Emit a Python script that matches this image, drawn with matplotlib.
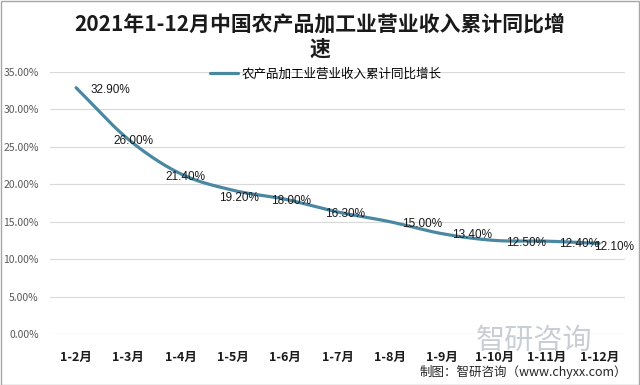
import numpy as np
import matplotlib
matplotlib.use('Agg')
import matplotlib.pyplot as plt
from matplotlib.ticker import FuncFormatter

plt.rcParams['font.family'] = ['Noto Sans CJK SC', 'DejaVu Sans']

months = ['1-2月', '1-3月', '1-4月', '1-5月', '1-6月', '1-7月',
          '1-8月', '1-9月', '1-10月', '1-11月', '1-12月']
growth = [32.90, 26.00, 21.40, 19.20, 18.00, 16.30, 15.00, 13.40, 12.50, 12.40, 12.10]
series_name = '农产品加工业营业收入累计同比增长'
title = '2021年1-12月中国农产品加工业营业收入累计同比增\n速'

# label offsets in pixels (left edge of label relative to point)
label_dx = [14, -15, -15, -14, -14, -13, 12, 10, 12, 12, -5]
label_dy = [-2, -2, -3, -8, -2, -2, -2, -1, -3, -3, -4]


def smooth(x, y, n=20):
    # Catmull-Rom spline through the points, like Excel's smoothed line
    x = np.asarray(x, float)
    y = np.asarray(y, float)
    px = np.concatenate([[2 * x[0] - x[1]], x, [2 * x[-1] - x[-2]]])
    py = np.concatenate([[2 * y[0] - y[1]], y, [2 * y[-1] - y[-2]]])
    xs, ys = [], []
    t = np.linspace(0, 1, n, endpoint=False)
    for i in range(1, len(px) - 2):
        for arr, out in ((px, xs), (py, ys)):
            p0, p1, p2, p3 = arr[i - 1], arr[i], arr[i + 1], arr[i + 2]
            out.extend(0.5 * ((2 * p1) + (-p0 + p2) * t
                              + (2 * p0 - 5 * p1 + 4 * p2 - p3) * t ** 2
                              + (-p0 + 3 * p1 - 3 * p2 + p3) * t ** 3))
    xs.append(x[-1])
    ys.append(y[-1])
    return np.array(xs), np.array(ys)


fig = plt.figure(figsize=(6.4, 3.85), dpi=100)
ax = fig.add_axes([0.078, 0.1325, 0.899, 0.6805])

xpos = np.arange(len(months))
sx, sy = smooth(xpos, growth)
ax.plot(sx, sy, color='#4A88A2', linewidth=2.3, label=series_name, solid_capstyle='round')

for i, v in enumerate(growth):
    ax.annotate('%.2f%%' % v, (xpos[i], v), xytext=(label_dx[i], label_dy[i]),
                textcoords='offset pixels', ha='left', va='center',
                fontsize=8.5, color='#1a1a1a',
                family=['Liberation Sans', 'DejaVu Sans'])

ax.set_xlim(-0.5, len(months) - 0.5)
ax.set_ylim(0, 35)
ax.set_yticks(np.arange(0, 36, 5))
ax.yaxis.set_major_formatter(FuncFormatter(lambda v, p: '%.2f%%' % v))
ax.set_xticks(xpos)
ax.set_xticklabels(months, fontsize=9, fontweight='bold', color='#1a1a1a')
ax.tick_params(axis='y', labelsize=7.5, labelcolor='#595959', length=0, pad=8)
ax.tick_params(axis='x', length=0, pad=12)
ax.grid(axis='y', color='#D9D9D9', linewidth=0.8)
ax.set_axisbelow(True)
for s in ax.spines.values():
    s.set_visible(False)

fig.text(0.5, 0.905, title, ha='center', va='center', fontsize=15,
         fontweight='bold', color='#1a1a1a', linespacing=1.25)

leg = ax.legend(loc='upper center', bbox_to_anchor=(0.48, 1.06), frameon=False,
                fontsize=9, handlelength=2.2, handletextpad=0.3)

# watermark
fig.text(0.835, 0.115, '智研咨询', ha='center', va='center', fontsize=21,
         color='#B8BEC8', alpha=0.75)
fig.text(0.98, 0.035, '制图：智研咨询（www.chyxx.com）', ha='right', va='center',
         fontsize=9, color='#262626')

fig.patches.append(plt.Rectangle((0.001, 0.001), 0.997, 0.996, transform=fig.transFigure,
                                 fill=False, edgecolor='#A6A6A6', linewidth=1))

fig.savefig('out.png', dpi=100)
